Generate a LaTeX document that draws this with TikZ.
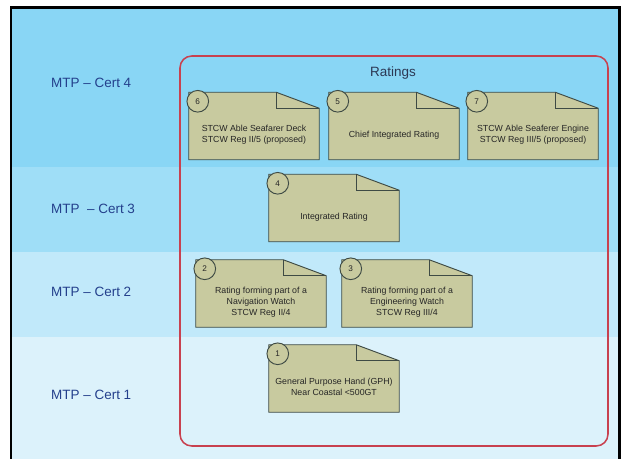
\documentclass[tikz,border=0pt]{standalone}
\usepackage{fontspec}
\setmainfont{Liberation Sans}
\usetikzlibrary{calc}
\definecolor{certfour}{HTML}{89D6F5}
\definecolor{certthree}{HTML}{9FDEF7}
\definecolor{certtwo}{HTML}{C1E9FA}
\definecolor{certone}{HTML}{DCF2FB}
\definecolor{certtext}{HTML}{24408C}
\definecolor{ratingstext}{HTML}{2C3854}
\definecolor{ratingsred}{HTML}{C8414F}
\definecolor{notebg}{HTML}{C8CA9F}
\definecolor{notedraw}{HTML}{3E4A44}
\newcommand{\ratingnote}[4]{%
 \node (#1) [ratingbox] at (#2) {};
 \draw[notefill] (#1.north west) -- ($(#1.north east)+(-43,0)$) -- ($(#1.north east)+(0,16)$) -- (#1.south east) -- (#1.south west) -- cycle;
 \draw[notefill,fill=none] ($(#1.north east)+(-43,0)$) -- ++(0,16) -- ($(#1.north east)+(0,16)$);
 \node (#1-num) [ratingnum] at ($(#1.north west)+(9,9)$) {#3};
 \node (#1-text) [ratingtext] at ($(#1.south)+(0,-25)$) {#4};
}
\begin{document}
\begin{tikzpicture}[
 x=0.03cm,
 y=-0.03cm,
 align=center,
 certlabel/.style={anchor=west,text=certtext,font=\fontsize{11.5}{14}\selectfont},
 ratingbox/.style={rectangle,minimum width=3.9cm,minimum height=2.01cm,inner sep=0},
 notefill/.style={draw=notedraw,fill=notebg,line width=0.8pt},
 ratingtext/.style={font=\fontsize{7.5}{9.4}\selectfont,text=black!85},
 ratingnum/.style={circle,draw=notedraw,fill=notebg,line width=0.8pt,minimum size=0.65cm,inner sep=0,font=\fontsize{7}{8}\selectfont,text=black!85}
]
\useasboundingbox (0,0) rectangle (623,459);
\fill[white] (0,0) rectangle (623,459);
\fill[certfour] (11,7.5) rectangle (619.5,167);
\fill[certthree] (11,167) rectangle (619.5,252);
\fill[certtwo] (11,252) rectangle (619.5,337);
\fill[certone] (11,337) rectangle (619.5,459);
\draw[line width=2.4pt,line join=miter] (11,459) -- (11,7.5) -- (619.5,7.5) -- (619.5,459);
\node (cert4) [certlabel] at (47,83) {MTP -- Cert 4};
\node (cert3) [certlabel] at (47,209) {MTP\ \ -- Cert 3};
\node (cert2) [certlabel] at (47,292) {MTP -- Cert 2};
\node (cert1) [certlabel] at (47,395) {MTP -- Cert 1};
\draw[ratingsred,line width=1.3pt,rounded corners=10] (180,56) rectangle (608,446);
\node (ratings) at (393,73) [font=\fontsize{11.5}{14}\selectfont,text=ratingstext] {Ratings};
\ratingnote{r6}{254,126}{6}{STCW Able Seafarer Deck\\STCW Reg II/5 (proposed)}
\ratingnote{r5}{394,126}{5}{Chief Integrated Rating}
\ratingnote{r7}{533,126}{7}{STCW Able Seaferer Engine\\STCW Reg III/5 (proposed)}
\ratingnote{r4}{334,208}{4}{Integrated Rating}
\ratingnote{r2}{261,293.5}{2}{Rating forming part of a\\Navigation Watch\\STCW Reg II/4}
\ratingnote{r3}{407,293.5}{3}{Rating forming part of a\\Engineering Watch\\STCW Reg III/4}
\ratingnote{r1}{334,378.5}{1}{General Purpose Hand (GPH)\\Near Coastal <500GT}
\end{tikzpicture}
\end{document}
